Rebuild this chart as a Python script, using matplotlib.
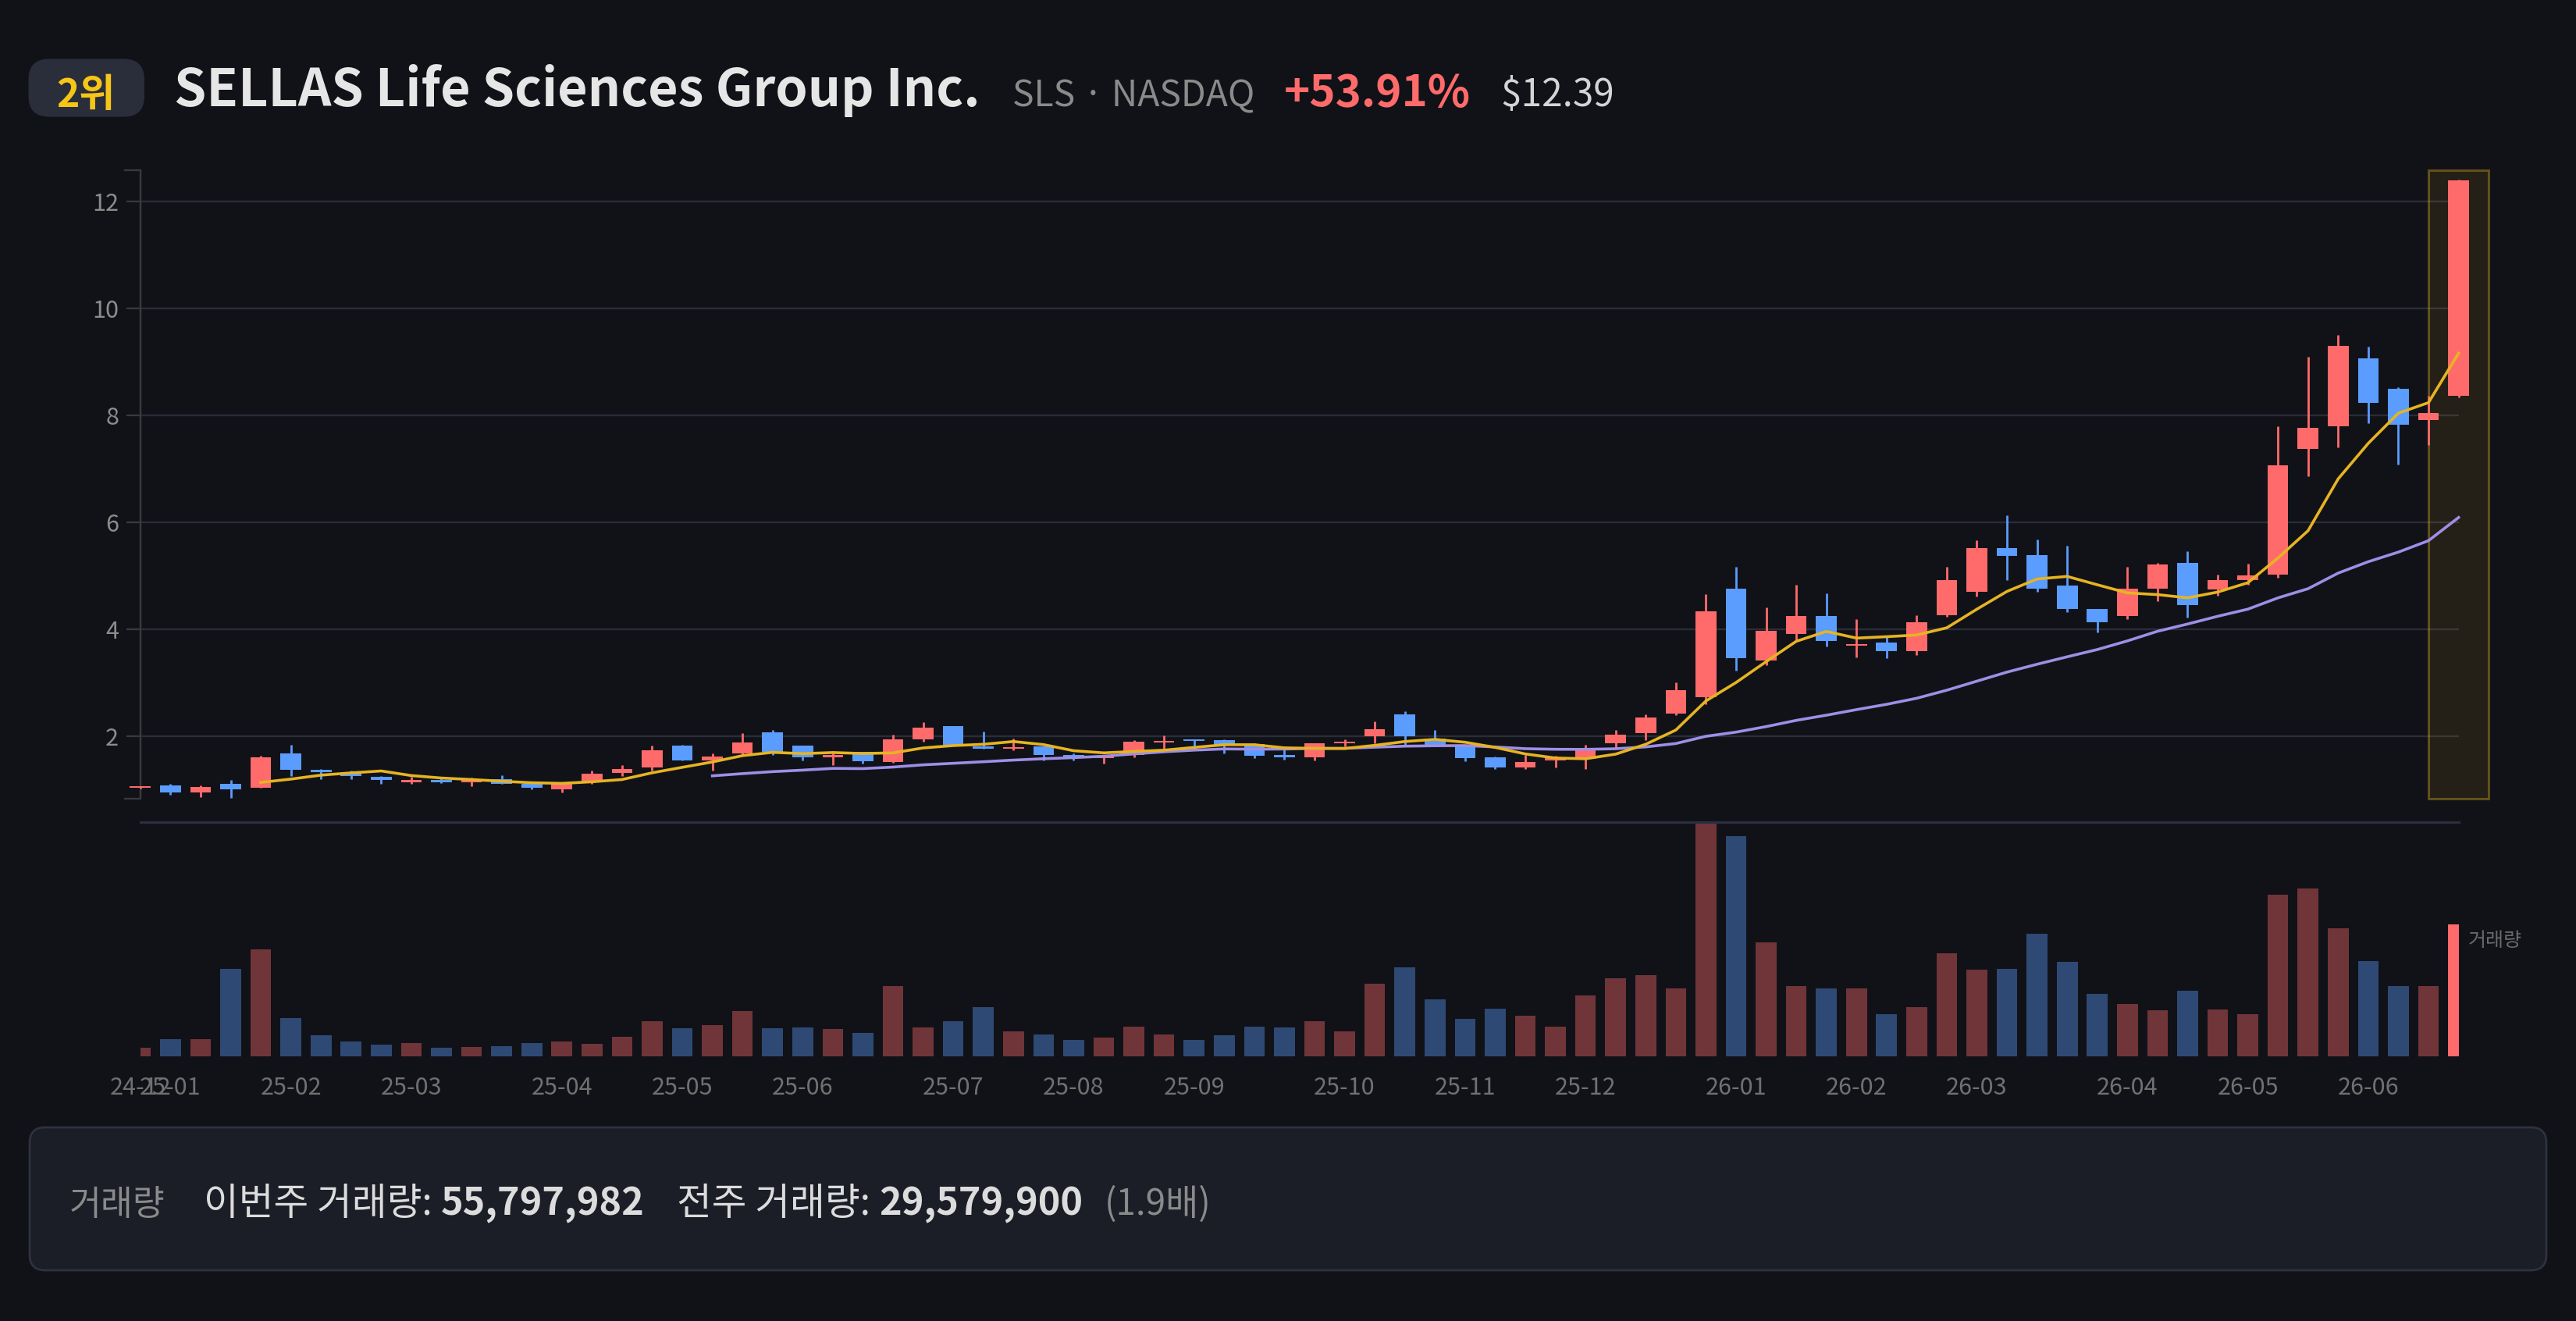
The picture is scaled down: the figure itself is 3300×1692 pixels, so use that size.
import numpy as np
import pandas as pd
import matplotlib
matplotlib.use("Agg")
import matplotlib.pyplot as plt
from matplotlib.patches import FancyBboxPatch, Rectangle

plt.rcParams['font.family'] = ['Noto Sans CJK KR', 'DejaVu Sans']

# weekly candles (open, high, low, close)
opens = [1.05, 1.09, 0.95, 1.12, 1.05, 1.68, 1.38, 1.30, 1.25, 1.15,
         1.19, 1.15, 1.21, 1.11, 1.02, 1.14, 1.32, 1.43, 1.83, 1.56,
         1.68, 2.08, 1.83, 1.62, 1.71, 1.52, 1.95, 2.19, 1.82, 1.77,
         1.81, 1.66, 1.60, 1.65, 1.89, 1.95, 1.93, 1.86, 1.65, 1.62,
         1.88, 2.00, 2.42, 1.96, 1.82, 1.62, 1.42, 1.55, 1.58, 1.87,
         2.07, 2.43, 2.74, 4.76, 3.42, 3.91, 4.25, 3.70, 3.76, 3.60,
         4.26, 4.71, 5.52, 5.39, 4.82, 4.39, 4.25, 4.76, 5.25, 4.75,
         4.92, 5.02, 7.38, 7.80, 9.07, 8.50, 7.91, 8.37]
highs = [1.08, 1.12, 1.09, 1.19, 1.64, 1.84, 1.39, 1.36, 1.26, 1.25,
         1.22, 1.23, 1.28, 1.13, 1.14, 1.36, 1.47, 1.83, 1.85, 1.68,
         2.07, 2.12, 1.83, 1.73, 1.72, 2.04, 2.27, 2.20, 2.09, 1.96,
         1.81, 1.68, 1.66, 1.93, 2.02, 1.95, 1.95, 1.88, 1.77, 1.88,
         1.95, 2.29, 2.48, 2.12, 1.83, 1.63, 1.65, 1.64, 1.84, 2.12,
         2.42, 3.01, 4.66, 5.17, 4.42, 4.83, 4.67, 4.19, 3.88, 4.26,
         5.17, 5.66, 6.13, 5.68, 5.57, 4.39, 5.17, 5.24, 5.47, 5.03,
         5.23, 7.80, 9.09, 9.50, 9.29, 8.52, 8.37, 12.41]
lows = [1.03, 0.92, 0.87, 0.85, 1.04, 1.26, 1.21, 1.20, 1.11, 1.11,
        1.13, 1.08, 1.11, 1.02, 0.95, 1.11, 1.26, 1.36, 1.55, 1.36,
        1.66, 1.66, 1.55, 1.47, 1.50, 1.51, 1.91, 1.83, 1.77, 1.75,
        1.56, 1.56, 1.50, 1.62, 1.78, 1.78, 1.69, 1.60, 1.57, 1.55,
        1.82, 1.88, 1.85, 1.81, 1.54, 1.40, 1.40, 1.43, 1.39, 1.77,
        1.93, 2.40, 2.60, 3.23, 3.34, 3.79, 3.68, 3.48, 3.47, 3.52,
        4.24, 4.61, 4.93, 4.70, 4.32, 3.94, 4.20, 4.53, 4.23, 4.63,
        4.84, 4.97, 6.86, 7.41, 7.85, 7.08, 7.44, 8.34]
closes = [1.07, 0.96, 1.06, 1.01, 1.62, 1.38, 1.33, 1.27, 1.19, 1.19,
          1.15, 1.19, 1.11, 1.05, 1.13, 1.30, 1.40, 1.74, 1.56, 1.63,
          1.89, 1.71, 1.62, 1.66, 1.54, 1.95, 2.17, 1.84, 1.78, 1.80,
          1.66, 1.60, 1.64, 1.91, 1.92, 1.92, 1.85, 1.64, 1.62, 1.87,
          1.91, 2.14, 2.00, 1.82, 1.60, 1.43, 1.53, 1.62, 1.75, 2.03,
          2.35, 2.86, 4.34, 3.47, 3.98, 4.25, 3.78, 3.72, 3.60, 4.14,
          4.92, 5.52, 5.38, 4.76, 4.38, 4.14, 4.76, 5.22, 4.46, 4.92,
          5.01, 7.07, 7.77, 9.30, 8.24, 7.83, 8.05, 12.39]
# weekly volume in millions of shares
volumes_m = [3.42, 7.07, 7.29, 36.9, 45.1, 16.2, 8.84, 6.30, 4.97, 5.41,
             3.54, 3.87, 4.31, 5.41, 6.30, 5.30, 8.29, 14.8, 11.8, 13.2,
             19.1, 11.8, 12.2, 11.4, 9.83, 29.8, 12.2, 14.7, 20.8, 10.6,
             9.28, 6.85, 7.84, 12.5, 9.17, 6.85, 8.73, 12.4, 12.2, 14.7,
             10.6, 30.7, 37.5, 23.9, 15.9, 20.0, 17.0, 12.4, 25.7, 32.9,
             34.3, 28.7, 99.2, 93.0, 48.3, 29.7, 28.7, 28.6, 17.6, 20.8,
             43.6, 36.7, 37.1, 51.8, 39.8, 26.5, 22.0, 19.4, 27.6, 19.7,
             17.8, 68.3, 71.0, 54.1, 40.3, 29.7, 29.5799, 55.797982]
first_week = '2024-12-30'

rank_label = "2위"
company = "SELLAS Life Sciences Group Inc."
ticker_info = "SLS · NASDAQ"
change_label = "+53.91%"
price_label = "$12.39"
this_week_vol = 55797982
prev_week_vol = 29579900

BG = '#111218'
UP = '#ff6b6b'
DOWN = '#5b9cff'
MA5_C = '#e6b422'
MA20_C = '#9d8fe6'
GRID = '#2a2d38'
AXIS = '#3a3a3e'

W, H = 3300, 1692
fig = plt.figure(figsize=(W / 200, H / 200), dpi=200, facecolor=BG)


def fx(px):
    return px / W


def fy(py):
    return 1 - py / H


n = len(closes)
x = np.arange(n)
o = np.array(opens)
c = np.array(closes)
up = c >= o
col = [UP if u else DOWN for u in up]
vol = np.array(volumes_m) * 1e6
dates = pd.date_range(first_week, periods=n, freq='W-MON')

# ---------- price panel ----------
ax = fig.add_axes([fx(179.8), fy(1023), fx(3149.6 - 179.8), (1023 - 218) / H])
ax.set_facecolor(BG)
ax.set_xlim(0, n - 1)
ax.set_ylim(0.84, 12.58)

# highlight of the latest week
ax.add_patch(Rectangle((n - 2, 0.84), 2, 12.58 - 0.84, facecolor=(0.9, 0.72, 0.13, 0.09),
                       edgecolor=(0.9, 0.72, 0.13, 0.35), lw=1.1, clip_on=False, zorder=1))

ax.vlines(x, lows, highs, colors=col, lw=1.0, clip_on=False, zorder=3)
body_h = np.maximum(np.abs(c - o), 0.025)
ax.bar(x, body_h, bottom=np.minimum(o, c), width=0.69, color=col, clip_on=False, zorder=4)

ma5 = pd.Series(closes).rolling(5).mean()
ma20 = pd.Series(closes).rolling(20).mean()
ax.plot(x, ma20, color=MA20_C, lw=1.3, zorder=5, clip_on=False)
ax.plot(x, ma5, color=MA5_C, lw=1.3, zorder=6, clip_on=False)

ax.set_yticks([2, 4, 6, 8, 10, 12])
ax.yaxis.grid(True, color=GRID, lw=0.85)
ax.set_axisbelow(True)
ax.set_xticks([])
for s in ['top', 'right', 'bottom']:
    ax.spines[s].set_visible(False)
ax.spines['left'].set_color(AXIS)
ax.spines['left'].set_linewidth(0.8)
ax.tick_params(axis='y', colors=AXIS, length=6.5, width=0.8, pad=3.5,
               labelcolor='#8c8c8c', labelsize=11)
ax.plot([-0.0065, 0, 0, -0.0065], [1, 1, 0, 0], transform=ax.transAxes,
        color=AXIS, lw=0.8, clip_on=False)

# ---------- volume panel ----------
axv = fig.add_axes([fx(179.8), fy(1352.7), fx(3149.6 - 179.8), (1352.7 - 1052.7) / H])
axv.set_facecolor(BG)
axv.set_xlim(0, n - 1)
axv.set_ylim(0, vol.max())
bars = axv.bar(x, vol, width=0.69, color=col, alpha=0.4)
bars[-1].set_alpha(1.0)
for s in ['left', 'right', 'bottom']:
    axv.spines[s].set_visible(False)
axv.spines['top'].set_color('#2b2f40')
axv.spines['top'].set_linewidth(1.1)
axv.set_yticks([])
tick_idx = [i for i in range(n) if i == 0 or dates[i].month != dates[i - 1].month]
axv.set_xticks(tick_idx, [dates[i].strftime('%y-%m') for i in tick_idx])
axv.tick_params(axis='x', length=0, pad=9, labelcolor='#707070', labelsize=11)
fig.text(fx(3162), fy(1205), "거래량", color='#6a6a6a', fontsize=9, ha='left', va='center')

# ---------- header ----------
fig.patches.append(FancyBboxPatch((fx(36.5), fy(149.6)), fx(185 - 36.5), (149.6 - 75.4) / H,
                                  boxstyle="round,pad=0,rounding_size=0.008",
                                  transform=fig.transFigure, facecolor='#2a2d3a',
                                  edgecolor='none', mutation_aspect=W / H))
fig.text(fx(110), fy(137), rank_label, color='#f5c518', fontsize=18, fontweight='bold',
         ha='center', va='baseline')

renderer = fig.canvas.get_renderer()


def chain(pieces, x0, base_y):
    # lay text pieces one after another on a common baseline
    xp = x0
    for txt, gap, kw in pieces:
        xp += gap
        t = fig.text(fx(xp), fy(base_y), txt, ha='left', va='baseline', **kw)
        xp = t.get_window_extent(renderer).x1
    return xp


chain([(company, 0, dict(color='#e6e6e6', fontsize=23.9, fontweight='bold')),
       (ticker_info, 41, dict(color='#8a8a8a', fontsize=16.7)),
       (change_label, 38, dict(color=UP, fontsize=20.3, fontweight='bold')),
       (price_label, 38, dict(color='#d4d4d4', fontsize=17.2))], 223, 136)

# ---------- footer box ----------
fig.patches.append(FancyBboxPatch((fx(38), fy(1627)), fx(3262 - 38), (1627 - 1444) / H,
                                  boxstyle="round,pad=0,rounding_size=0.006",
                                  transform=fig.transFigure, facecolor='#1b1d27',
                                  edgecolor='#2e3140', lw=1.0, mutation_aspect=W / H))
ratio = this_week_vol / prev_week_vol
chain([("거래량", 0, dict(color='#8a8a8a', fontsize=16)),
       ("이번주 거래량: ", 49, dict(color='#dcdcdc', fontsize=17.5)),
       (f"{this_week_vol:,}", 0, dict(color='#dcdcdc', fontsize=17.5, fontweight='bold')),
       ("전주 거래량: ", 42, dict(color='#dcdcdc', fontsize=17.5)),
       (f"{prev_week_vol:,}", 0, dict(color='#dcdcdc', fontsize=17.5, fontweight='bold')),
       (f"({ratio:.1f}배)", 28, dict(color='#8a8a8a', fontsize=16.5))], 89, 1556)

fig.savefig('out.png', dpi=200, facecolor=BG)
